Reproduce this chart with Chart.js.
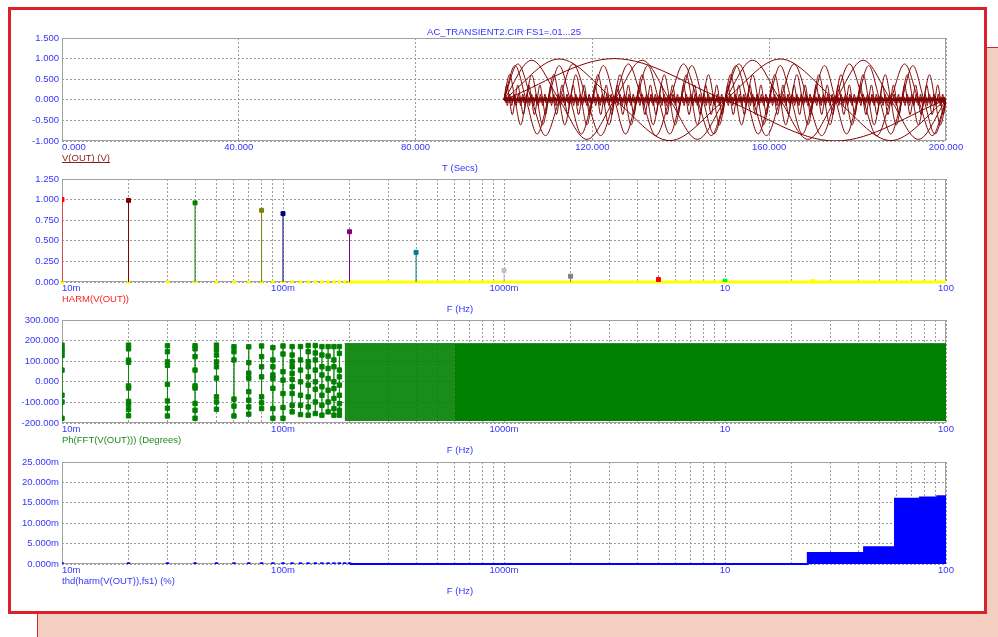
<!DOCTYPE html>
<html>
<head>
<meta charset="utf-8">
<script src="https://cdn.jsdelivr.net/npm/chart.js@4.4.1/dist/chart.umd.min.js"></script>
<style>
  body { margin: 0; width: 998px; height: 637px; overflow: hidden; position: relative; background: #fff; }
  #back { position: absolute; left: 37px; top: 47px; width: 990px; height: 620px; background: #f3cfc2;
          border-left: 1px solid #d9222a; border-top: 1px solid #d9222a; }
  #frame { position: absolute; left: 8px; top: 7px; width: 973px; height: 601px; background: #fff;
           border: 3px solid #d9222a; }
  canvas { position: absolute; left: 0; }
</style>
</head>
<body>
<div id="back"></div>
<div id="frame"></div>
<canvas id="p1" width="998" height="190"></canvas>
<canvas id="p2" width="998" height="170"></canvas>
<canvas id="p3" width="998" height="170"></canvas>
<canvas id="p4" width="998" height="180"></canvas>
<script>
// stepped runs: FS1 (Hz) and the amplitude of V(OUT) / HARM(V(OUT))
const runFreq = [0.01, 0.02, 0.04, 0.08, 0.1, 0.2, 0.4, 1, 2, 5, 10, 25];
const runAmp = [1.0, 0.99, 0.96, 0.87, 0.83, 0.61, 0.36, 0.14, 0.07, 0.03, 0.01, 0.004];
const runColor = ['#ff0000', '#800000', '#008000', '#808000', '#000080', '#800080',
                  '#008080', '#c0c0c0', '#808080', '#ff0000', '#00ff00', '#ffff00'];
const tStart = 100;
const tEnd = 200;

// harmonics that stay at zero (separate markers, then merged into a line)
const zeroHarmFreq = [0.01, 0.02, 0.03, 0.04, 0.05, 0.06, 0.07, 0.08, 0.09, 0.10,
                      0.11, 0.12, 0.13, 0.14, 0.15, 0.16, 0.17, 0.18, 0.19, 0.20];
const zeroLineFreq = [0.2, 100];

// phase of FFT (degrees) at the first harmonics
const phaseFreq = [0.01, 0.02, 0.03, 0.04, 0.05, 0.06, 0.07, 0.08, 0.09,
                   0.10, 0.11, 0.12, 0.13, 0.14, 0.15, 0.16, 0.17, 0.18];
const phaseDeg = [
  [178, 160, 145, 127, 57, -65, -98, -177],
  [178, 160, 105, 95, -20, -30, -95, -110, -135, -165],
  [175, 146, 97, 80, -12, -93, -128, -166],
  [175, 160, 122, 57, -20, -30, -105, -138, -177],
  [178, 155, 130, 97, 73, 18, -73, -98, -133],
  [170, 146, 106, -84, -118, -166],
  [170, 93, 42, 18, -48, -89, -122, -157],
  [174, 122, 73, 24, -73, -102, -130],
  [166, 106, 73, 33, 16, -32, -130, -177],
  [174, 135, 49, 8, -57, -125, -177],
  [171, 130, 98, 73, 41, 12, -24, -57, -114, -146],
  [171, 106, 57, 0, -65, -114, -159],
  [176, 146, 98, 73, 24, -16, -73, -122, -162],
  [176, 140, 106, 57, 0, -36, -98, -154],
  [171, 130, 73, 33, -24, -65, -114, -162],
  [171, 125, 65, 16, -41, -98, -146],
  [171, 106, 73, 0, -33, -81, -130, -162],
  [171, 138, 57, 24, -16, -65, -106, -138, -162]
];
// above ~0.19 Hz the phase points fill the whole -180..180 band
const phaseBandFreq = [0.19, 0.6, 100];
const phaseBandTop = 185;
const phaseBandBottom = -190;

// thd(harm(V(OUT)),fs1) in %, step edges
const thdFreq = [0.2, 23.7, 42.6, 58.8, 76.2, 91.4, 100];
const thdPct = [0, 0.0027, 0.0041, 0.0160, 0.0163, 0.0166, 0.0166];

// tick labels
const timeTicks = [0, 40, 80, 120, 160, 200];
const timeLabels = ['0.000', '40.000', '80.000', '120.000', '160.000', '200.000'];
const freqTicks = [0.01, 0.1, 1, 10, 100];
const freqLabels = ['10m', '100m', '1000m', '10', '100'];

const FONT = '9.5px "Liberation Sans", Arial, sans-serif';
const BLUE = '#3535ff';

// grid at 1..9 x each decade
const logGrid = [];
[0.01, 0.1, 1, 10].forEach(d => { for (let m = 1; m < 10; m++) logGrid.push(+(d * m).toPrecision(3)); });
logGrid.push(100);

const panelPlugin = {
  id: 'panel',
  beforeDatasetsDraw(chart) {
    const a = chart.chartArea, ctx = chart.ctx;
    ctx.save();
    ctx.strokeStyle = '#a0a0a0';
    ctx.lineWidth = 1;
    ctx.strokeRect(Math.round(a.left) + 0.5, Math.round(a.top) + 0.5,
                   Math.round(a.right - a.left) - 1, Math.round(a.bottom - a.top) - 1);
    ctx.restore();
  },
  afterDraw(chart, args, o) {
    const a = chart.chartArea, ctx = chart.ctx;
    const xs = chart.scales.x, ys = chart.scales.y;
    ctx.save();
    ctx.font = FONT;
    ctx.textBaseline = 'middle';
    ctx.fillStyle = BLUE;
    ctx.textAlign = 'right';
    ys.ticks.forEach(t => {
      const txt = o.milli ? (t.value * 1000).toFixed(3) + 'm' : t.value.toFixed(3);
      ctx.fillText(txt, a.left - 3, ys.getPixelForValue(t.value));
    });
    o.xValues.forEach((v, i) => {
      ctx.textAlign = i === 0 ? 'left' : 'center';
      ctx.fillText(o.xLabels[i], xs.getPixelForValue(v), a.bottom + 6.5);
    });
    ctx.textAlign = 'left';
    ctx.fillStyle = o.seriesColor;
    ctx.fillText(o.series, a.left, a.bottom + 17);
    if (o.underline) {
      const w = ctx.measureText(o.series).width;
      ctx.fillRect(a.left, a.bottom + 21, w, 1);
    }
    ctx.fillStyle = BLUE;
    ctx.textAlign = 'center';
    ctx.fillText(o.axisTitle, 460, a.bottom + 27.5);
    if (o.title) ctx.fillText(o.title, (a.left + a.right) / 2, a.top - 6);
    ctx.restore();
  }
};

const gridOpts = { color: '#9c9c9c', lineWidth: 1, drawTicks: false };
const borderOpts = { display: false, dash: [2, 2] };

function logAxis() {
  return {
    type: 'logarithmic', min: 0.01, max: 100,
    grid: gridOpts, border: borderOpts, ticks: { display: false },
    afterBuildTicks: s => { s.ticks = logGrid.map(v => ({ value: v })); }
  };
}

function linAxis(min, max, step) {
  return { type: 'linear', min: min, max: max, grid: gridOpts, border: borderOpts,
           ticks: { display: false, stepSize: step } };
}

function makeChart(id, top, padTop, xAxisH, xScale, yScale, datasets, text) {
  const cv = document.getElementById(id);
  cv.style.top = top + 'px';
  xScale.afterFit = s => { s.height = xAxisH; };
  yScale.afterFit = s => { s.width = 62; };
  return new Chart(cv, {
    type: 'scatter',
    data: { datasets: datasets },
    options: {
      responsive: false, animation: false, devicePixelRatio: 1,
      layout: { padding: { top: padTop, right: 52, left: 0, bottom: 0 } },
      elements: { point: { radius: 0, hoverRadius: 0, pointStyle: 'rect' } },
      plugins: { legend: { display: false }, tooltip: { enabled: false }, panel: text },
      scales: { x: xScale, y: yScale }
    },
    plugins: [panelPlugin]
  });
}

// ---- panel 1: V(OUT) transient, one curve per stepped run ----
const waveSets = runFreq.map((f, i) => {
  const amp = runAmp[i];
  const shape = [0, amp, 0, -amp];
  const n = Math.round((tEnd - tStart) * f * 4);
  const pts = [];
  for (let k = 0; k <= n; k++) pts.push({ x: tStart + k / (4 * f), y: shape[k % 4] });
  return { data: pts, showLine: true, borderColor: '#800000', borderWidth: 1,
           cubicInterpolationMode: 'monotone', pointRadius: 0 };
});
makeChart('p1', 0, 38, 49, linAxis(0, 200, 40), linAxis(-1, 1.5, 0.5), waveSets, {
  title: 'AC_TRANSIENT2.CIR FS1=.01...25', xValues: timeTicks, xLabels: timeLabels,
  series: 'V(OUT) (V)', seriesColor: '#8b1c1c', underline: true, axisTitle: 'T (Secs)'
});

// ---- panel 2: HARM(V(OUT)) stems ----
const harmSets = runFreq.map((f, i) => ({
  data: [{ x: f, y: 0 }, { x: f, y: runAmp[i] }],
  showLine: true, borderColor: runColor[i], borderWidth: 1,
  pointRadius: [0, 2.8], pointBorderWidth: 1,
  pointBackgroundColor: runColor[i], pointBorderColor: runColor[i]
}));
harmSets.push({
  data: zeroHarmFreq.map(f => ({ x: f, y: 0 })),
  pointRadius: 2.4, pointBorderWidth: 0, pointBackgroundColor: '#ffff00', clip: 4
});
harmSets.push({
  data: zeroLineFreq.map(f => ({ x: f, y: 0 })),
  showLine: true, borderColor: '#ffff00', borderWidth: 3, pointRadius: 0, clip: 4
});
makeChart('p2', 150, 29, 38, logAxis(), linAxis(0, 1.25, 0.25), harmSets, {
  xValues: freqTicks, xLabels: freqLabels,
  series: 'HARM(V(OUT))', seriesColor: '#ff2020', axisTitle: 'F (Hz)'
});

// ---- panel 3: phase ----
const phaseSets = phaseFreq.map((f, i) => ({
  data: phaseDeg[i].map(p => ({ x: f, y: p })),
  showLine: true, borderColor: 'rgba(0,128,0,0.6)', borderWidth: 1,
  pointRadius: 3.1, pointBorderWidth: 1,
  pointBackgroundColor: '#008000', pointBorderColor: '#008000'
}));
phaseSets.push({
  data: [{ x: phaseBandFreq[1], y: phaseBandTop }, { x: phaseBandFreq[2], y: phaseBandTop }],
  showLine: true, borderColor: '#008000', borderWidth: 1, pointRadius: 0,
  fill: { value: phaseBandBottom }, backgroundColor: '#008000'
});
phaseSets.push({
  data: [{ x: phaseBandFreq[0], y: phaseBandTop }, { x: phaseBandFreq[1], y: phaseBandTop }],
  showLine: true, borderColor: '#008000', borderWidth: 1, pointRadius: 0,
  fill: { value: phaseBandBottom }, backgroundColor: 'rgba(0,128,0,0.9)'
});
makeChart('p3', 290, 30, 37, logAxis(), linAxis(-200, 300, 100), phaseSets, {
  xValues: freqTicks, xLabels: freqLabels,
  series: 'Ph(FFT(V(OUT))) (Degrees)', seriesColor: '#1f8a1f', axisTitle: 'F (Hz)'
});

// ---- panel 4: thd ----
const thdSets = [
  {
    data: thdFreq.map((f, i) => ({ x: f, y: thdPct[i] })),
    showLine: true, stepped: true, borderColor: '#0000ff', borderWidth: 2, pointRadius: 0,
    fill: 'origin', backgroundColor: '#0000ff', clip: 2
  },
  {
    data: zeroHarmFreq.map(f => ({ x: f, y: 0 })),
    pointRadius: 2.4, pointBorderWidth: 0, pointBackgroundColor: '#0000ff'
  }
];
makeChart('p4', 430, 32, 46, logAxis(), linAxis(0, 0.025, 0.005), thdSets, {
  xValues: freqTicks, xLabels: freqLabels, milli: true,
  series: 'thd(harm(V(OUT)),fs1) (%)', seriesColor: BLUE, axisTitle: 'F (Hz)'
});
</script>
</body>
</html>
